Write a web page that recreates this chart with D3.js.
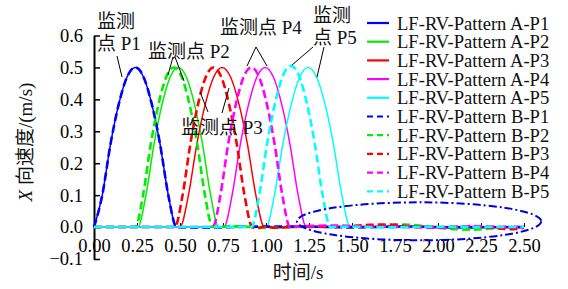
<!DOCTYPE html>
<html><head><meta charset="utf-8">
<script src="https://cdn.jsdelivr.net/npm/d3@7"></script>
<style>
html,body{margin:0;padding:0;background:#fff;}
svg{display:block;font-family:"Liberation Serif","Noto Sans CJK SC",serif;}
</style></head>
<body><svg id="c" width="568" height="289"></svg>
<script>
// ---- data ----
const seriesNames = ["LF-RV-Pattern A-P1","LF-RV-Pattern A-P2","LF-RV-Pattern A-P3","LF-RV-Pattern A-P4","LF-RV-Pattern A-P5",
                     "LF-RV-Pattern B-P1","LF-RV-Pattern B-P2","LF-RV-Pattern B-P3","LF-RV-Pattern B-P4","LF-RV-Pattern B-P5"];
const seriesColors = ["#0000ff","#00ee00","#ff0000","#ff00ff","#00ffff","#0000ff","#00ee00","#ff0000","#ff00ff","#00ffff"];
const seriesDashed = [false,false,false,false,false,true,true,true,true,true];

const tAP1 = [0,0.048,0.096,0.144,0.192,0.24,0.288,0.336,0.384,0.432,0.48,0.6,0.9,1.2,1.5,1.8,2.1,2.5];
const vAP1 = [0,0.10,0.26,0.385,0.47,0.5,0.47,0.385,0.26,0.10,0,0.001,0,0.002,0,0.001,0,0];
const tAP2 = [0,0.255,0.302,0.349,0.396,0.443,0.49,0.537,0.584,0.631,0.678,0.725,0.85,1.1,1.4,1.7,2.0,2.3,2.5];
const vAP2 = [0,0,0.10,0.26,0.385,0.47,0.5,0.47,0.385,0.26,0.10,0,0.002,0,0.001,0.002,0,0.001,0];
const tAP3 = [0,0.5,0.549,0.598,0.647,0.696,0.745,0.794,0.843,0.892,0.941,0.99,1.05,1.3,1.6,1.9,2.2,2.5];
const vAP3 = [0,0,0.10,0.26,0.385,0.47,0.5,0.47,0.385,0.26,0.10,0,-0.002,0.001,0.002,0,0.001,0];
const tAP4 = [0,0.755,0.803,0.851,0.899,0.947,0.995,1.043,1.091,1.139,1.187,1.235,1.35,1.6,1.9,2.2,2.5];
const vAP4 = [0,0,0.10,0.26,0.385,0.47,0.5,0.47,0.385,0.26,0.10,0,0.002,0.001,0,0.002,0];
const tAP5 = [0,1.0,1.049,1.098,1.147,1.196,1.245,1.294,1.343,1.392,1.441,1.49,1.6,1.85,2.1,2.3,2.5];
const vAP5 = [0,0,0.10,0.26,0.385,0.47,0.5,0.47,0.385,0.26,0.10,0,0.001,0,0.002,0,0];

const tBP1 = [0,0.048,0.096,0.144,0.192,0.24,0.288,0.336,0.384,0.432,0.48,0.6,0.9,1.2,1.5,1.8,2.1,2.5];
const vBP1 = [0,0.10,0.26,0.385,0.47,0.5,0.47,0.385,0.26,0.10,0,-0.002,0.001,0.002,-0.001,0.002,-0.001,0];
const tBP2 = [0,0.24,0.285,0.33,0.375,0.42,0.465,0.51,0.555,0.6,0.645,0.69,0.8,1.0,1.3,1.6,1.8,1.9,2.05,2.2,2.35,2.5];
const vBP2 = [0,0,0.10,0.26,0.385,0.47,0.5,0.47,0.385,0.26,0.10,0,0.003,-0.002,0.002,0.003,0.008,0.004,-0.005,-0.008,-0.003,0];
const tBP3 = [0,0.47,0.515,0.56,0.605,0.65,0.695,0.74,0.785,0.83,0.875,0.92,0.95,1.0,1.05,1.2,1.4,1.6,1.7,1.85,2.0,2.2,2.35,2.42,2.5];
const vBP3 = [0,0,0.10,0.26,0.385,0.47,0.5,0.47,0.385,0.26,0.10,0,-0.004,0.003,-0.002,0.002,0,0.007,0.008,0.002,0,0.002,-0.004,-0.007,-0.002];
const tBP4 = [0,0.69,0.735,0.78,0.825,0.87,0.915,0.96,1.005,1.05,1.095,1.14,1.2,1.4,1.55,1.8,2.0,2.2,2.35,2.5];
const vBP4 = [0,0,0.10,0.26,0.385,0.47,0.5,0.47,0.385,0.26,0.10,0,0.002,0.005,0.002,0,-0.002,0.003,0.001,0];
const tBP5 = [0,0.915,0.961,1.007,1.053,1.099,1.145,1.191,1.237,1.283,1.329,1.375,1.45,1.7,2.0,2.3,2.5];
const vBP5 = [0,0,0.101,0.263,0.389,0.475,0.505,0.475,0.389,0.263,0.101,0,0.001,-0.001,0.001,0,0];

const xTicks = [0,0.25,0.5,0.75,1.0,1.25,1.5,1.75,2.0,2.25,2.5];
const xTickLabels = ["0.00","0.25","0.50","0.75","1.00","1.25","1.50","1.75","2.00","2.25","2.50"];
const yTicks = [0.6,0.5,0.4,0.3,0.2,0.1,0.0,-0.1];
const yTickLabels = ["0.6","0.5","0.4","0.3","0.2","0.1","0.0","\u22120.1"];

const annoTexts = [["监测","点 P1"],["监测点 P2"],["监测点 P3"],["监测点 P4"],["监测","点 P5"]];

// ---- chart ----
const times = [tAP1,tAP2,tAP3,tAP4,tAP5,tBP1,tBP2,tBP3,tBP4,tBP5];
const vals  = [vAP1,vAP2,vAP3,vAP4,vAP5,vBP1,vBP2,vBP3,vBP4,vBP5];

const svg = d3.select("#c");
const x = d3.scaleLinear().domain([0,2.5]).range([94,524]);
const y = d3.scaleLinear().domain([-0.1,0.6]).range([259,35.5]);

// y axis
const yAxis = d3.axisLeft(y).tickValues(yTicks).tickSize(-6).tickSizeOuter(0).tickPadding(11)
  .tickFormat((d,i)=>yTickLabels[i]);
const gy = svg.append("g").attr("transform",`translate(${x(0)},0)`).call(yAxis);
gy.select(".domain").attr("stroke","#000").attr("stroke-width",2);
gy.selectAll(".tick line").attr("stroke","#000").attr("stroke-width",1.5);
gy.selectAll("text").attr("font-size",18.5).attr("fill","#000").attr("font-family","Liberation Serif");

// x axis (ticks upward at y=0)
const xAxis = d3.axisBottom(x).tickValues(xTicks).tickSize(-4).tickSizeOuter(0).tickPadding(12)
  .tickFormat((d,i)=>xTickLabels[i]);
const gx = svg.append("g").attr("transform",`translate(0,${y(0)})`).call(xAxis);
gx.select(".domain").remove();
gx.selectAll(".tick line").attr("stroke","#000").attr("stroke-width",1);
gx.selectAll("text").attr("font-size",18.5).attr("fill","#000").attr("font-family","Liberation Serif");

// lines
const line = d3.line().x(d=>x(d[0])).y(d=>y(d[1])).curve(d3.curveMonotoneX);
const gl = svg.append("g");
times.forEach((ts,i)=>{
  const pts = ts.map((t,j)=>[t,vals[i][j]]);
  gl.append("path").attr("d",line(pts)).attr("fill","none")
    .attr("stroke",seriesColors[i])
    .attr("stroke-width",seriesDashed[i]?2.6:1.5)
    .attr("stroke-dasharray",seriesDashed[i]?"8,4":null);
});

// ellipse highlight
svg.append("ellipse").attr("cx",(x(1.18)+x(2.6))/2).attr("cy",y(0.018)).attr("rx",(x(2.6)-x(1.18))/2).attr("ry",19)
  .attr("fill","none").attr("stroke","#0000dd").attr("stroke-width",2).attr("stroke-dasharray","8,3,2,3");

// legend
const lg = svg.append("g");
seriesNames.forEach((n,i)=>{
  const yy = 23 + i*18.7;
  lg.append("line").attr("x1",367).attr("x2",389).attr("y1",yy).attr("y2",yy)
    .attr("stroke",seriesColors[i]).attr("stroke-width",2.2)
    .attr("stroke-dasharray",seriesDashed[i]?"6,4":null);
  lg.append("text").attr("x",397).attr("y",yy).attr("dominant-baseline","central")
    .attr("font-size",18.6).attr("fill","#111").text(n);
});

// annotations
const annoPos = [[97,21],[148,51],[181,127],[220,27],[313,15]];
annoTexts.forEach((lines,i)=>{
  lines.forEach((s,k)=>{
    svg.append("text").attr("x",annoPos[i][0]).attr("y",annoPos[i][1]+k*22)
      .attr("dominant-baseline","central").attr("font-size",19).attr("fill","#111").text(s);
  });
});
const leaders = [
  [[117,56],[122,77]],
  [[173,57],[168,75]],[[175,57],[184,81]],
  [[200,92],[208,112]],[[229,88],[222,113]],
  [[256,47],[247,66]],[[256,47],[267,66]],
  [[313,47],[292,65]],[[324,47],[317,77]]
];
leaders.forEach(p=>{
  svg.append("line").attr("x1",p[0][0]).attr("y1",p[0][1]).attr("x2",p[1][0]).attr("y2",p[1][1])
    .attr("stroke","#000").attr("stroke-width",1);
});

// axis titles
const yt = svg.append("text").attr("transform","translate(25,142) rotate(-90)")
  .attr("text-anchor","middle").attr("dominant-baseline","central").attr("font-size",19).attr("fill","#111");
yt.append("tspan").attr("font-style","italic").text("X");
yt.append("tspan").text(" 向速度/(m/s)");
svg.append("text").attr("x",298).attr("y",272).attr("text-anchor","middle").attr("dominant-baseline","central")
  .attr("font-size",19).attr("fill","#111").text("时间/s");
</script></body></html>
